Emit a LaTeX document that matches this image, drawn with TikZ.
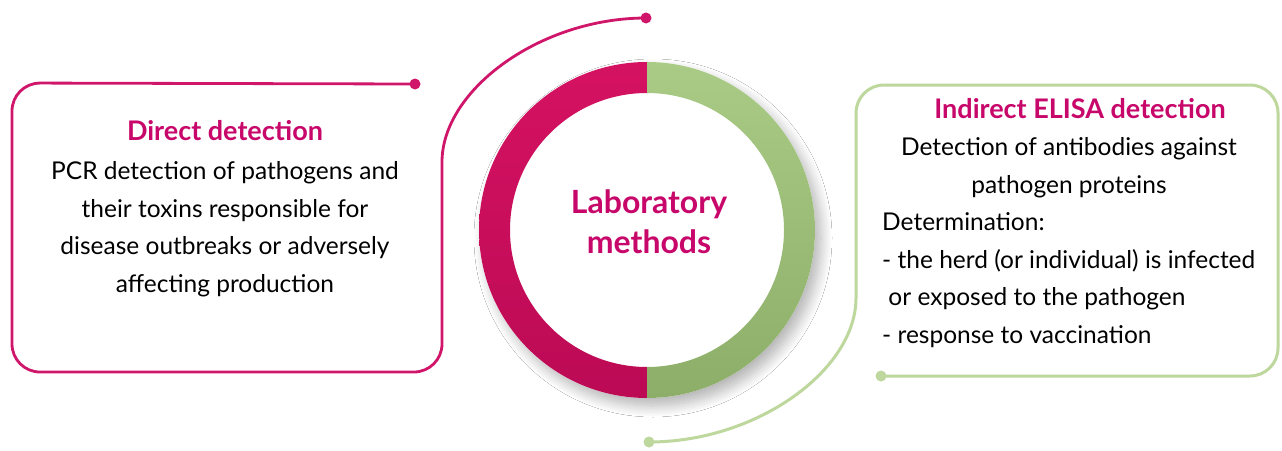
\documentclass[tikz,border=0pt]{standalone}
\usepackage{fontspec}
\setmainfont{Lato}
\usetikzlibrary{shadows.blur}
\definecolor{mag}{HTML}{D0166A}
\definecolor{magtext}{HTML}{C8076B}
\definecolor{ringred}{HTML}{D51262}
\definecolor{ringreddark}{HTML}{BC0A55}
\definecolor{ringgreen}{HTML}{A9CB86}
\definecolor{ringgreendark}{HTML}{8DAE69}
\definecolor{grline}{HTML}{BDD79C}
\tikzset{
  magline/.style={draw=mag, line width=2.8pt},
  grnline/.style={draw=grline, line width=3pt},
  bodytext/.style={font=\fontsize{24.5}{37.5}\selectfont, text=black, inner sep=0pt},
  titletext/.style={font=\fontsize{27}{37.5}\selectfont\bfseries, text=magtext, inner sep=0pt},
}
\begin{document}
\begin{tikzpicture}[x=1pt,y=1pt]
\useasboundingbox (0,0) rectangle (1282,-450);
\fill[white] (0,0) rectangle (1282,-450);

% named points
\coordinate (ldot) at (415,-84);
\coordinate (tdot) at (646,-18);
\coordinate (rdot) at (881,-376);
\coordinate (bdot) at (649,-442);
\coordinate (ctr) at (647,-230);

% left box + arc
\draw[magline, rounded corners=28pt] (ldot) -- (12,-83) -- (12,-372) -- (442,-372) -- (442,-190)
  [sharp corners] .. controls (442,-90) and (540,-18) .. (tdot);
\fill[mag] (ldot) circle (5.5pt);
\fill[mag] (tdot) circle (5.5pt);

% right box + arc
\draw[grnline, rounded corners=28pt] (rdot) -- (1278,-376) -- (1278,-85) -- (856,-85) -- (856,-270)
  [sharp corners] .. controls (856,-370) and (757,-442) .. (bdot);
\fill[grline] (rdot) circle (5.5pt);
\fill[grline] (bdot) circle (5.5pt);

% ring with shadow
\fill[white, blur shadow={shadow xshift=6pt, shadow yshift=-8pt, shadow blur radius=11pt, shadow blur steps=14, shadow opacity=30}] (ctr) circle (168pt);
\shade[top color=ringred, bottom color=ringreddark]
  (647,-62) arc[start angle=90, end angle=270, radius=168pt] -- (647,-367)
  arc[start angle=270, end angle=90, radius=137pt] -- cycle;
\shade[top color=ringgreen, bottom color=ringgreendark]
  (647,-62) arc[start angle=90, end angle=-90, radius=168pt] -- (647,-367)
  arc[start angle=-90, end angle=90, radius=137pt] -- cycle;

% texts (anchor=base is the baseline of the last line)
\node[titletext, font=\fontsize{32}{40}\selectfont\bfseries, align=center, anchor=base] (lab) at (649,-253) {Laboratory\\methods};

\node[bodytext, align=center, anchor=base] (ltxt) at (225,-292)
  {\textcolor{magtext}{\fontsize{27}{37.5}\selectfont\bfseries Direct detection}\\[1.5pt]
   PCR detection of pathogens and\\
   their toxins responsible for\\
   disease outbreaks or adversely\\
   affecting production};

\node[titletext, anchor=base] (rtitle) at (1080,-118) {Indirect ELISA detection};
\node[bodytext, align=center, anchor=base] (rtxt1) at (1069,-193)
  {Detection of antibodies against\\pathogen proteins};
\node[bodytext, align=left, anchor=base west] (rtxt2) at (882,-343)
  {Determination:\\
   - the herd (or individual) is infected\\
   \ or exposed to the pathogen\\
   - response to vaccination};
\end{tikzpicture}
\end{document}
